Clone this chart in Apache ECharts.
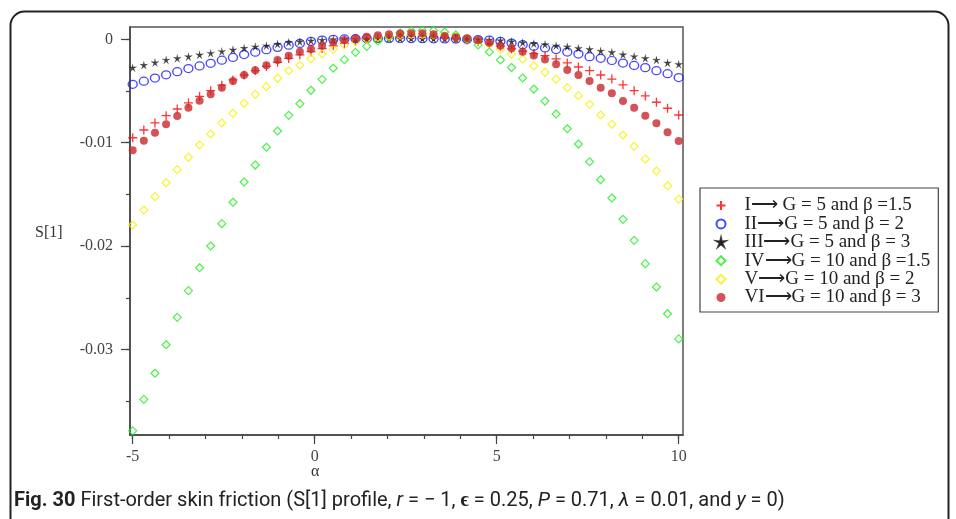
<!DOCTYPE html>
<html><head><meta charset="utf-8">
<script src="https://cdn.jsdelivr.net/npm/echarts@6/dist/echarts.min.js"></script>
<style>html,body{margin:0;padding:0;background:#fff}#c{width:956px;height:519px}</style>
</head><body><div id="c"></div>
<script>
const alpha = [-5, -4.694, -4.388, -4.082, -3.776, -3.469, -3.163, -2.857, -2.551, -2.245,
  -1.939, -1.633, -1.327, -1.020, -0.714, -0.408, -0.102, 0.204, 0.510, 0.816,
  1.122, 1.429, 1.735, 2.041, 2.347, 2.653, 2.959, 3.265, 3.571, 3.878,
  4.184, 4.490, 4.796, 5.102, 5.408, 5.714, 6.020, 6.327, 6.633, 6.939,
  7.245, 7.551, 7.857, 8.163, 8.469, 8.776, 9.082, 9.388, 9.694, 10];

const sI = [-0.00952,-0.00877,-0.00809,-0.00739,-0.00674,-0.00615,-0.00552,-0.00497,-0.00444,-0.00393,
  -0.00345,-0.00302,-0.00262,-0.00222,-0.00185,-0.00150,-0.00120,-0.00090,-0.00063,-0.00040,
  -0.00020,-0.00003,0.00010,0.00020,0.00026,0.00030,0.00030,0.00026,0.00019,0.00008,
  -0.00006,-0.00023,-0.00043,-0.00066,-0.00092,-0.00115,-0.00138,-0.00158,-0.00190,-0.00228,
  -0.00268,-0.00303,-0.00345,-0.00385,-0.00440,-0.00497,-0.00548,-0.00609,-0.00667,-0.00732];

const sII = [-0.00435,-0.00405,-0.00375,-0.00343,-0.00313,-0.00283,-0.00258,-0.00232,-0.00202,-0.00175,
  -0.00148,-0.00124,-0.00100,-0.00078,-0.00057,-0.00040,-0.00020,-0.00008,0.00000,0.00004,
  0.00006,0.00008,0.00008,0.00008,0.00008,0.00007,0.00006,0.00005,0.00004,0.00002,
  0.00000,-0.00003,-0.00008,-0.00020,-0.00036,-0.00052,-0.00068,-0.00084,-0.00099,-0.00123,
  -0.00143,-0.00168,-0.00184,-0.00205,-0.00230,-0.00253,-0.00274,-0.00304,-0.00333,-0.00370];

const sIII = [-0.00275,-0.00250,-0.00225,-0.00200,-0.00184,-0.00168,-0.00150,-0.00135,-0.00118,-0.00102,
  -0.00086,-0.00072,-0.00062,-0.00046,-0.00030,-0.00023,-0.00014,-0.00007,-0.00002,0.00000,
  0.00003,0.00004,0.00005,0.00005,0.00005,0.00005,0.00004,0.00004,0.00003,0.00002,
  0.00000,-0.00001,-0.00005,-0.00012,-0.00022,-0.00033,-0.00042,-0.00050,-0.00062,-0.00072,
  -0.00087,-0.00098,-0.00113,-0.00126,-0.00148,-0.00166,-0.00184,-0.00200,-0.00228,-0.00242];

const sIV = [-0.03787,-0.03482,-0.03230,-0.02954,-0.02689,-0.02431,-0.02209,-0.01999,-0.01783,-0.01576,
  -0.01380,-0.01216,-0.01044,-0.00887,-0.00735,-0.00623,-0.00493,-0.00387,-0.00280,-0.00197,
  -0.00126,-0.00068,-0.00016,0.00022,0.00061,0.00080,0.00087,0.00085,0.00071,0.00042,
  -0.00002,-0.00055,-0.00123,-0.00200,-0.00273,-0.00374,-0.00481,-0.00597,-0.00722,-0.00865,
  -0.01013,-0.01184,-0.01358,-0.01535,-0.01741,-0.01944,-0.02170,-0.02396,-0.02654,-0.02898];

const sV = [-0.01796,-0.01651,-0.01522,-0.01387,-0.01261,-0.01141,-0.01022,-0.00916,-0.00809,-0.00716,
  -0.00619,-0.00532,-0.00458,-0.00377,-0.00304,-0.00249,-0.00188,-0.00142,-0.00097,-0.00055,
  -0.00023,0.00000,0.00017,0.00030,0.00040,0.00045,0.00046,0.00043,0.00036,0.00025,
  0.00010,-0.00012,-0.00048,-0.00095,-0.00145,-0.00193,-0.00258,-0.00319,-0.00387,-0.00468,
  -0.00545,-0.00629,-0.00732,-0.00822,-0.00926,-0.01035,-0.01158,-0.01274,-0.01416,-0.01545];

const sVI = [-0.01073,-0.00981,-0.00903,-0.00822,-0.00742,-0.00662,-0.00594,-0.00532,-0.00468,-0.00403,
  -0.00345,-0.00300,-0.00252,-0.00200,-0.00159,-0.00120,-0.00094,-0.00062,-0.00029,-0.00007,
  0.00010,0.00025,0.00040,0.00048,0.00055,0.00058,0.00058,0.00048,0.00032,0.00020,
  0.00010,-0.00007,-0.00033,-0.00062,-0.00087,-0.00120,-0.00157,-0.00195,-0.00242,-0.00297,
  -0.00345,-0.00403,-0.00468,-0.00522,-0.00597,-0.00662,-0.00739,-0.00812,-0.00899,-0.00984];

const names = ['I\u27f6 G = 5 and \u03b2 =1.5', 'II\u27f6G = 5 and \u03b2 = 2', 'III\u27f6G = 5 and \u03b2 = 3',
  'IV\u27f6G = 10 and \u03b2 =1.5', 'V\u27f6G = 10 and \u03b2 = 2', 'VI\u27f6G = 10 and \u03b2 = 3'];
const xMajor = [-5, 0, 5, 10];
const xMinor = [-5,-4,-3,-2,-1,0,1,2,3,4,5,6,7,8,9,10];
const yMajor = [-0.03, -0.02, -0.01, 0];
const yMinor = [-0.035,-0.03,-0.025,-0.02,-0.015,-0.01,-0.005,0];

const pair = arr => alpha.map((a, i) => [a, arr[i]]);
const serif = 'Liberation Serif';
const plus = 'path://M5,0 L5,10 M0,5 L10,5';
const star = 'path://M5,0 L5.9,3.8 L10,3.5 L6.5,5.8 L8.1,9.6 L5,7 L1.9,9.6 L3.5,5.8 L0,3.5 L4.1,3.8 Z';

const seriesDefs = [
  {d: sI, symbol: plus, size: 9, style: {color: '#ff0000', borderColor: '#ff0000', borderWidth: 1.3}},
  {d: sII, symbol: 'circle', size: [9, 8], style: {color: 'rgba(0,0,0,0)', borderColor: '#1a1aff', borderWidth: 1.3}},
  {d: sIII, symbol: star, size: 8, style: {color: '#111', borderColor: '#111', borderWidth: 0.2}},
  {d: sIV, symbol: 'diamond', size: [8, 8], style: {color: 'rgba(0,0,0,0)', borderColor: '#22ee22', borderWidth: 1.2}},
  {d: sV, symbol: 'diamond', size: [8, 8], style: {color: 'rgba(0,0,0,0)', borderColor: '#f2f200', borderWidth: 1.2}},
  {d: sVI, symbol: 'circle', size: 8, style: {color: '#c8282c', borderColor: '#c8282c', borderWidth: 0}}
];

const chart = echarts.init(document.getElementById('c'), null, {renderer: 'canvas'});
chart.setOption({
  animation: false,
  backgroundColor: '#fff',
  grid: {left: 130, top: 27, width: 553, height: 408, show: true, borderColor: '#555', borderWidth: 1.5, containLabel: false},
  xAxis: [{
    type: 'value', min: -5.074, max: 10.118, gridIndex: 0,
    axisLine: {show: true, onZero: false, lineStyle: {color: '#444', width: 1.5}},
    axisTick: {show: true, length: 9, customValues: xMajor, lineStyle: {color: '#444', width: 1.2}},
    axisLabel: {customValues: xMajor, margin: 14, fontFamily: serif, fontSize: 16, color: '#444'},
    splitLine: {show: false}
  }, {
    type: 'value', min: -5.074, max: 10.118, gridIndex: 0, position: 'bottom',
    axisLine: {show: false, onZero: false},
    axisTick: {show: true, length: 4, customValues: xMinor, lineStyle: {color: '#444', width: 1.2}},
    axisLabel: {show: false},
    splitLine: {show: false}
  }],
  yAxis: [{
    type: 'value', min: -0.03827, max: 0.00119,
    axisLine: {show: true, onZero: false, lineStyle: {color: '#444', width: 1.5}},
    axisTick: {show: true, length: 9, customValues: yMajor, lineStyle: {color: '#444', width: 1.2}},
    axisLabel: {customValues: yMajor, margin: 17, fontFamily: serif, fontSize: 16, color: '#444',
      formatter: v => (Math.abs(v) < 1e-9 ? '0' : '-' + Math.abs(v).toFixed(2))},
    splitLine: {show: false}
  }, {
    type: 'value', min: -0.03827, max: 0.00119, position: 'left',
    axisLine: {show: false, onZero: false},
    axisTick: {show: true, length: 4, customValues: yMinor, lineStyle: {color: '#444', width: 1.2}},
    axisLabel: {show: false},
    splitLine: {show: false}
  }],
  legend: {
    orient: 'vertical', left: 700, top: 188,
    padding: [8, 8, 5, 15.5],
    itemWidth: 9, itemHeight: 9, itemGap: -0.6,
    borderColor: '#444', borderWidth: 1.2, backgroundColor: '#fff',
    textStyle: {fontFamily: serif, fontSize: 19, lineHeight: 18, color: '#222', padding: [0, 0, 0, 14]},
    data: names
  },
  series: seriesDefs.map((s, k) => ({
    type: 'scatter', name: names[k], xAxisIndex: 0, yAxisIndex: 0,
    data: pair(s.d), symbol: s.symbol, symbolSize: s.size, itemStyle: s.style,
    z: 2 + k
  })),
  graphic: [
    {type: 'rect', left: 8, top: 9, z: -10, silent: true,
     shape: {width: 938, height: 540, r: 14}, style: {fill: 'none', stroke: '#222', lineWidth: 2}},
    {type: 'text', left: 35, top: 225, style: {text: 'S[1]', font: '16px "Liberation Serif"', fill: '#333'}},
    {type: 'text', left: 311, top: 464, style: {text: '\u03b1', font: '16px "Liberation Serif"', fill: '#333'}},
    {type: 'text', left: 14, top: 491, style: {
      text: '{b|Fig. 30} First-order skin friction (S[1] profile, {i|r} = \u2212 1, {e|\u03f5} = 0.25, {i|P} = 0.71, {i|\u03bb} = 0.01, and {i|y} = 0)',
      font: '20px "Roboto"', fill: '#222',
      rich: {
        b: {fontWeight: 'bold', fontSize: 20, fontFamily: 'Roboto', fill: '#222'},
        i: {fontStyle: 'italic', fontSize: 20, fontFamily: 'Roboto', fill: '#222'},
        e: {fontWeight: 'bold', fontSize: 20, fontFamily: 'Roboto', fill: '#222'}
      }
    }}
  ]
});
</script>
</body></html>
